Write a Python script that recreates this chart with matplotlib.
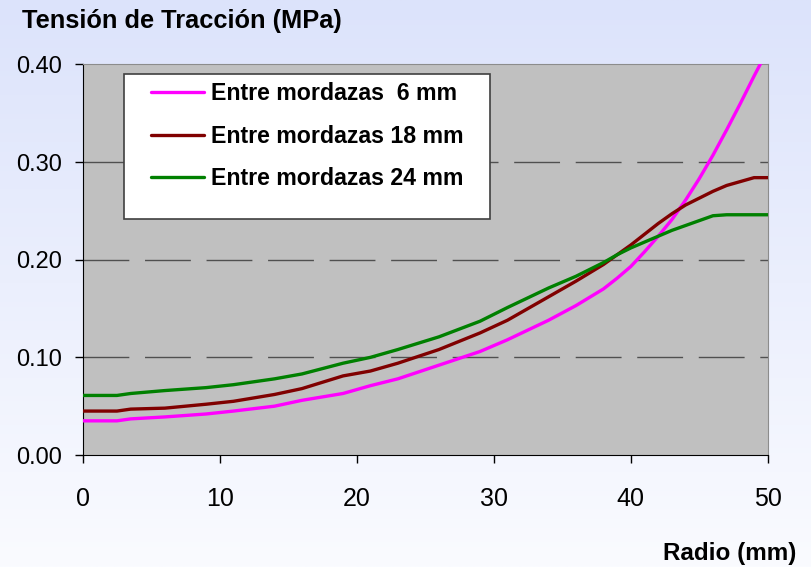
import numpy as np
import matplotlib
matplotlib.use("Agg")
import matplotlib.pyplot as plt
from matplotlib.patches import Rectangle

# radio (mm) and tension values
radio = [0, 2.5, 3.5, 6, 9, 11, 14, 16, 19, 21, 23, 26, 29, 31, 34, 36,
         38, 39, 40, 41, 42, 43, 44, 45, 46, 47, 48, 49, 50]

mordazas_6 = [0.035, 0.035, 0.037, 0.039, 0.042, 0.045, 0.050, 0.056, 0.063,
              0.071, 0.078, 0.092, 0.106, 0.118, 0.138, 0.153, 0.170, 0.181,
              0.193, 0.208, 0.224, 0.241, 0.261, 0.283, 0.307, 0.333, 0.360,
              0.388, 0.415]
mordazas_18 = [0.045, 0.045, 0.047, 0.048, 0.052, 0.055, 0.062, 0.068, 0.081,
               0.086, 0.094, 0.108, 0.125, 0.138, 0.162, 0.178, 0.195, 0.205,
               0.215, 0.226, 0.237, 0.247, 0.256, 0.263, 0.270, 0.276, 0.280,
               0.284, 0.284]
mordazas_24 = [0.061, 0.061, 0.063, 0.066, 0.069, 0.072, 0.078, 0.083, 0.094,
               0.100, 0.108, 0.121, 0.137, 0.151, 0.171, 0.183, 0.197, 0.205,
               0.212, 0.218, 0.224, 0.230, 0.235, 0.240, 0.245, 0.246, 0.246,
               0.246, 0.246]

series_labels = ["Entre mordazas  6 mm", "Entre mordazas 18 mm", "Entre mordazas 24 mm"]
series_colors = ["#ff00ff", "#800000", "#008000"]

x_ticks = [0, 10, 20, 30, 40, 50]
y_ticks = [0.0, 0.1, 0.2, 0.3, 0.4]


def main():
    plt.rcParams["font.family"] = ["Liberation Sans", "DejaVu Sans"]

    fig = plt.figure(figsize=(8.11, 5.67), dpi=100)

    # gradient background
    bg = fig.add_axes([0, 0, 1, 1], zorder=-10)
    top = np.array([220, 227, 251]) / 255
    bottom = np.array([250, 251, 255]) / 255
    t = np.linspace(0, 1, 256)[:, None]
    grad = top * (1 - t[..., None]) + bottom * t[..., None]
    grad = np.repeat(grad, 2, axis=1)
    bg.imshow(grad, aspect="auto", extent=[0, 1, 0, 1])
    bg.axis("off")

    ax = fig.add_axes([0.102, 0.1975, 0.8447, 0.689])
    ax.set_facecolor("#c0c0c0")

    for y, color, label in zip([mordazas_6, mordazas_18, mordazas_24],
                               series_colors, series_labels):
        ax.plot(radio, y, color=color, lw=2.4, label=label,
                solid_capstyle="round", solid_joinstyle="round", zorder=3)

    ax.set_xlim(0, 50)
    ax.set_ylim(0, 0.4)
    ax.set_xticks(x_ticks)
    ax.set_yticks(y_ticks)
    ax.set_yticklabels([f"{v:.2f}" for v in y_ticks])
    ax.tick_params(axis="x", labelsize=18, length=6, width=1, pad=17)
    ax.tick_params(axis="y", labelsize=17, length=6, width=1, pad=9)

    for v in y_ticks[1:-1]:
        ax.axhline(v, color="#505050", lw=1.0, dashes=(33, 11.3), zorder=1)

    ax.spines["left"].set_color("black")
    ax.spines["bottom"].set_color("black")
    ax.spines["top"].set_color("#8c8c8c")
    ax.spines["right"].set_color("#8c8c8c")

    # legend box drawn by hand (Excel-like padding)
    ax.add_patch(Rectangle((0.0603, 0.6035), 0.5343, 0.3715,
                           transform=ax.transAxes, facecolor="white",
                           edgecolor="#404040", lw=1.2, zorder=4))
    ax.legend(loc="upper left", bbox_to_anchor=(0.099, 0.955),
              frameon=False, handlelength=2.3,
              handletextpad=0.3, labelspacing=0.85, borderpad=0,
              borderaxespad=0, prop={"weight": "bold", "size": 16.7})
    ax.get_legend().set_zorder(5)

    fig.text(0.0267, 0.9506, "Tensión de Tracción (MPa)", fontsize=18.3,
             fontweight="bold", va="baseline", ha="left")
    fig.text(0.8175, 0.0123, "Radio (mm)", fontsize=17.5,
             fontweight="bold", va="baseline", ha="left")

    fig.savefig("out.png", dpi=100)
    plt.close(fig)


if __name__ == "__main__":
    main()
